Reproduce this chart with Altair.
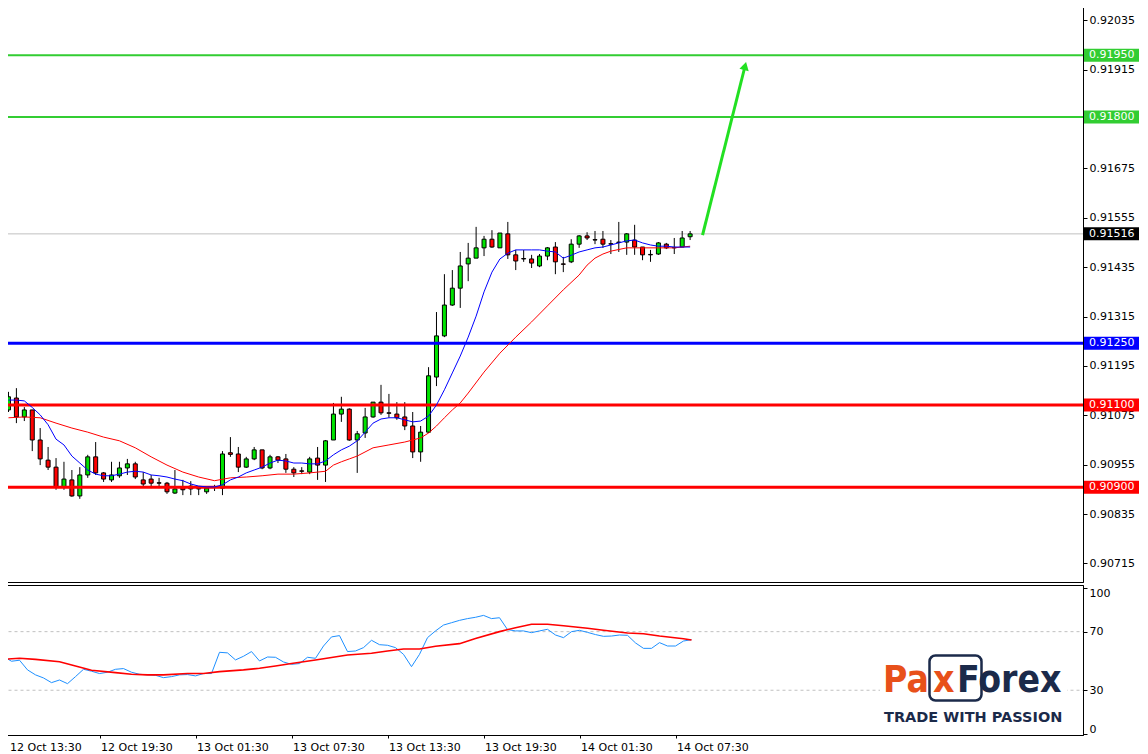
import altair as alt
import pandas as pd

# ---------------- data ----------------
start_time = "2022-10-12 13:30"
n_candles = 87
times = pd.date_range(start_time, periods=n_candles, freq="30min", tz="UTC")
t_iso = [t.strftime("%Y-%m-%dT%H:%M:%SZ") for t in times]

opens = [0.91088, 0.91117, 0.91071, 0.91088, 0.91015, 0.90966, 0.90949, 0.90901, 0.90918, 0.90879,
         0.90930, 0.90974, 0.90935, 0.90918, 0.90928, 0.90947, 0.90957, 0.90918, 0.90920, 0.90911,
         0.90910, 0.90886, 0.90901, 0.90903, 0.90897, 0.90889, 0.90900, 0.90898, 0.90984, 0.90981,
         0.90949, 0.90969, 0.90991, 0.90947, 0.90974, 0.90969, 0.90944, 0.90940, 0.90937, 0.90971,
         0.90954, 0.91015, 0.91078, 0.91090, 0.91015, 0.91032, 0.91071, 0.91107, 0.91081, 0.91078,
         0.91071, 0.91049, 0.90986, 0.91034, 0.91168, 0.91268, 0.91343, 0.91384, 0.91443, 0.91457,
         0.91482, 0.91503, 0.91482, 0.91516, 0.91465, 0.91456, 0.91455, 0.91438, 0.91462, 0.91484,
         0.91443, 0.91448, 0.91491, 0.91511, 0.91502, 0.91503, 0.91492, 0.91495, 0.91496, 0.91501,
         0.91484, 0.91466, 0.91467, 0.91491, 0.91483, 0.91484, 0.91509]
highs = [0.91132, 0.91141, 0.91095, 0.91088, 0.91044, 0.90998, 0.90971, 0.90962, 0.90942, 0.90949,
         0.90979, 0.91010, 0.90937, 0.90962, 0.90962, 0.90969, 0.90962, 0.90937, 0.90930, 0.90923,
         0.90913, 0.90942, 0.90918, 0.90915, 0.90901, 0.90901, 0.90906, 0.90988, 0.91022, 0.90998,
         0.90974, 0.90998, 0.90991, 0.90979, 0.90976, 0.90981, 0.90949, 0.90949, 0.90974, 0.90998,
         0.91015, 0.91105, 0.91120, 0.91092, 0.91037, 0.91093, 0.91107, 0.91149, 0.91127, 0.91107,
         0.91107, 0.91083, 0.91049, 0.91192, 0.91326, 0.91418, 0.91428, 0.91472, 0.91494, 0.91533,
         0.91511, 0.91525, 0.91518, 0.91545, 0.91477, 0.91477, 0.91465, 0.91467, 0.91484, 0.91496,
         0.91460, 0.91503, 0.91513, 0.91520, 0.91523, 0.91523, 0.91501, 0.91545, 0.91518, 0.91538,
         0.91484, 0.91477, 0.91496, 0.91494, 0.91506, 0.91523, 0.91523]
lows = [0.91083, 0.91056, 0.91061, 0.90988, 0.90954, 0.90942, 0.90894, 0.90894, 0.90877, 0.90872,
        0.90923, 0.90930, 0.90913, 0.90913, 0.90923, 0.90930, 0.90920, 0.90903, 0.90898, 0.90898,
        0.90884, 0.90884, 0.90881, 0.90881, 0.90881, 0.90884, 0.90891, 0.90881, 0.90974, 0.90937,
        0.90947, 0.90966, 0.90944, 0.90944, 0.90959, 0.90935, 0.90925, 0.90932, 0.90932, 0.90918,
        0.90913, 0.91015, 0.91059, 0.91013, 0.90935, 0.91020, 0.91069, 0.91076, 0.91069, 0.91064,
        0.91039, 0.90971, 0.90962, 0.91032, 0.91146, 0.91265, 0.91341, 0.91336, 0.91401, 0.91457,
        0.91462, 0.91482, 0.91482, 0.91455, 0.91428, 0.91448, 0.91433, 0.91435, 0.91452, 0.91418,
        0.91423, 0.91445, 0.91482, 0.91501, 0.91491, 0.91482, 0.91467, 0.91472, 0.91465, 0.91465,
        0.91452, 0.91448, 0.91465, 0.91479, 0.91467, 0.91484, 0.91501]
closes = [0.91120, 0.91071, 0.91088, 0.91015, 0.90969, 0.90949, 0.90901, 0.90920, 0.90879, 0.90930,
          0.90974, 0.90935, 0.90920, 0.90930, 0.90947, 0.90957, 0.90925, 0.90908, 0.90910, 0.90910,
          0.90889, 0.90896, 0.90894, 0.90896, 0.90896, 0.90898, 0.90901, 0.90981, 0.90980, 0.90949,
          0.90969, 0.90991, 0.90947, 0.90974, 0.90966, 0.90944, 0.90935, 0.90939, 0.90969, 0.90954,
          0.91013, 0.91078, 0.91090, 0.91015, 0.91030, 0.91071, 0.91107, 0.91081, 0.91080, 0.91069,
          0.91049, 0.90986, 0.91034, 0.91171, 0.91268, 0.91343, 0.91384, 0.91438, 0.91457, 0.91482,
          0.91503, 0.91484, 0.91518, 0.91465, 0.91450, 0.91455, 0.91445, 0.91462, 0.91482, 0.91448,
          0.91442, 0.91491, 0.91511, 0.91506, 0.91501, 0.91491, 0.91491, 0.91496, 0.91516, 0.91484,
          0.91465, 0.91465, 0.91494, 0.91482, 0.91482, 0.91506, 0.91516]

# fast moving average (blue), one value per candle
ma_fast = [0.91112, 0.91112, 0.91110, 0.91094, 0.91076, 0.91052, 0.91017, 0.91003, 0.90976, 0.90959,
           0.90942, 0.90932, 0.90928, 0.90928, 0.90932, 0.90937, 0.90939, 0.90937, 0.90930, 0.90928,
           0.90925, 0.90920, 0.90916, 0.90908, 0.90903, 0.90901, 0.90901, 0.90906, 0.90918, 0.90925,
           0.90935, 0.90942, 0.90949, 0.90959, 0.90966, 0.90964, 0.90959, 0.90959, 0.90957, 0.90957,
           0.90964, 0.90979, 0.90991, 0.91000, 0.91013, 0.91034, 0.91056, 0.91066, 0.91069, 0.91069,
           0.91064, 0.91059, 0.91061, 0.91073, 0.91100, 0.91137, 0.91178, 0.91219, 0.91265, 0.91316,
           0.91375, 0.91423, 0.91455, 0.91469, 0.91477, 0.91477, 0.91477, 0.91477, 0.91474, 0.91472,
           0.91457, 0.91464, 0.91472, 0.91477, 0.91482, 0.91484, 0.91489, 0.91494, 0.91499, 0.91501,
           0.91494, 0.91489, 0.91486, 0.91486, 0.91484, 0.91484, 0.91484]

# slow moving average (red), read at these candle positions
ma_slow_idx = [0, 2, 4, 6, 8, 10, 12, 14, 16, 18, 20, 22, 24, 26, 28, 30, 32, 34, 36, 38,
               40, 41, 42, 43, 44, 46, 48, 50, 52, 53, 54, 55, 56, 57, 58, 60, 62, 64, 66, 68,
               70, 72, 73, 74, 75, 76, 78, 80, 82, 84, 86]
ma_slow = [0.91069, 0.91071, 0.91069, 0.91056, 0.91044, 0.91034, 0.91022, 0.91013, 0.90996, 0.90974,
           0.90954, 0.90937, 0.90925, 0.90916, 0.90923, 0.90925, 0.90928, 0.90932, 0.90932, 0.90935,
           0.90939, 0.90954, 0.90962, 0.90969, 0.90976, 0.90996, 0.91003, 0.91010, 0.91020, 0.91032,
           0.91049, 0.91069, 0.91088, 0.91105, 0.91129, 0.91180, 0.91226, 0.91265, 0.91302, 0.91341,
           0.91380, 0.91416, 0.91440, 0.91457, 0.91467, 0.91474, 0.91482, 0.91482, 0.91482, 0.91482,
           0.91486]

# RSI (blue) per candle and its signal line (red)
rsi = [53.0, 49.8, 50.5, 43.9, 40.5, 38.4, 35.2, 37.0, 34.5, 39.3,
       44.3, 43.0, 41.4, 42.3, 44.3, 44.8, 42.3, 40.9, 40.5, 40.2,
       38.6, 39.3, 40.5, 40.7, 39.8, 41.4, 41.4, 55.9, 55.5, 50.7,
       53.2, 56.4, 50.0, 52.7, 52.5, 49.3, 47.7, 48.2, 52.5, 51.8,
       60.2, 66.4, 67.3, 56.4, 56.8, 59.1, 64.1, 61.1, 60.7, 59.1,
       54.5, 46.1, 54.5, 65.9, 70.5, 74.5, 76.1, 77.7, 78.9, 79.8,
       81.1, 78.9, 79.5, 71.4, 70.5, 70.5, 69.3, 70.5, 71.6, 67.7,
       65.9, 70.0, 70.9, 69.5, 68.0, 66.8, 67.0, 67.7, 67.5, 62.3,
       58.6, 58.6, 62.5, 60.2, 60.2, 63.6, 64.5]
rsi_sig_idx = [0, 2, 4, 7, 9, 11, 14, 16, 18, 20, 23, 25, 27, 30, 32, 34, 36, 39, 41, 43,
               46, 48, 50, 52, 54, 57, 59, 62, 64, 66, 68, 70, 73, 75, 78, 80, 82, 85, 86]
rsi_sig = [51.1, 51.8, 51.1, 49.5, 46.6, 43.6, 42.0, 40.9, 40.5, 40.5,
           41.4, 41.4, 42.7, 43.9, 45.0, 46.6, 48.2, 50.7, 52.3, 54.1,
           55.2, 56.8, 58.2, 58.2, 60.0, 61.8, 65.3, 70.0, 72.7, 75.0,
           75.0, 74.0, 72.3, 70.9, 69.1, 68.6, 67.0, 65.2, 64.3]

price_ticks = [0.92035, 0.91915, 0.91675, 0.91555, 0.91435, 0.91315,
               0.91195, 0.91075, 0.90955, 0.90835, 0.90715]
level_prices = [0.91950, 0.91800, 0.91250, 0.91100, 0.90900]
level_kinds = ["target", "target", "pivot", "support", "support"]
last_price = 0.91516
rsi_levels = [30, 70]
rsi_ticks = [0, 30, 70, 100]
time_ticks = ["2022-10-12 13:30", "2022-10-12 19:30", "2022-10-13 01:30", "2022-10-13 07:30",
              "2022-10-13 13:30", "2022-10-13 19:30", "2022-10-14 01:30", "2022-10-14 07:30"]
arrow_times = ["2022-10-14T09:17:00Z", "2022-10-14T11:58:00Z"]
arrow_prices = [0.91513, 0.91924]

# ---------------- tables ----------------
cdf = pd.DataFrame({"t": t_iso, "o": opens, "h": highs, "l": lows, "c": closes})
fast_df = pd.DataFrame({"t": t_iso, "v": ma_fast})
slow_df = pd.DataFrame({"t": [t_iso[i] for i in ma_slow_idx], "v": ma_slow})
rsi_df = pd.DataFrame({"t": t_iso, "v": rsi})
sig_df = pd.DataFrame({"t": [t_iso[i] for i in rsi_sig_idx], "v": rsi_sig})
lv_df = pd.DataFrame({"p": level_prices, "kind": level_kinds})
box_df = pd.DataFrame({"p": level_prices + [last_price], "kind": level_kinds + ["last"]})
last_df = pd.DataFrame({"p": [last_price]})
arrow_df = pd.DataFrame({"t": arrow_times, "p": arrow_prices})
rsi_lv_df = pd.DataFrame({"v": rsi_levels})


def ms(ts):
    return int(pd.Timestamp(ts).value // 10**6)


T0 = pd.Timestamp(start_time, tz="UTC")
x_domain = [ms(T0 - pd.Timedelta(seconds=562.5)), ms(T0 + pd.Timedelta(seconds=242887.5))]
tick_ms = [ms(pd.Timestamp(s, tz="UTC")) for s in time_ticks]

# ---------------- styles ----------------
BULL = "#00e400"
BEAR = "#ff0000"
FONT = "DejaVu Sans"
KIND_SCALE = alt.Scale(domain=["target", "pivot", "support", "last"],
                       range=["#32cd32", "#0000ff", "#ff0000", "#000000"])

XS = alt.Scale(type="utc", domain=x_domain, nice=False)
X_MAIN = alt.X("t:T", scale=XS, axis=None)

YS = alt.Scale(domain=[0.9066983, 0.9208441], zero=False, nice=False)
YAX = alt.Axis(orient="right", values=price_ticks, format=".5f", tickSize=4, labelPadding=2,
               grid=False, title=None, labelOverlap=False, labelFlush=False)


def yp(f):
    return alt.Y(f, scale=YS, axis=YAX)


last_rule = alt.Chart(last_df).mark_rule(color="#c0c0c0", strokeWidth=1).encode(
    y=yp("p:Q"), x=alt.value(1.5), x2=alt.value(1082))

wicks = alt.Chart(cdf).mark_rule(color="black", strokeWidth=1).encode(
    x=X_MAIN, y=yp("l:Q"), y2="h:Q")

bodies = alt.Chart(cdf).mark_bar(size=4, stroke="black", strokeWidth=1, opacity=1).encode(
    x=X_MAIN, y=yp("o:Q"), y2="c:Q",
    color=alt.condition("datum.c >= datum.o", alt.value(BULL), alt.value(BEAR)))

green_rules = alt.Chart(lv_df).transform_filter(alt.datum.kind == "target").mark_rule(
    strokeWidth=2).encode(
    y=yp("p:Q"), x=alt.value(1.5), x2=alt.value(1082),
    color=alt.Color("kind:N", scale=KIND_SCALE, legend=None))

other_rules = alt.Chart(lv_df).transform_filter(alt.datum.kind != "target").mark_rule(
    strokeWidth=3).encode(
    y=yp("p:Q"), x=alt.value(1.5), x2=alt.value(1082),
    color=alt.Color("kind:N", scale=KIND_SCALE, legend=None))

slow_line = alt.Chart(slow_df).mark_line(color="#ff0000", strokeWidth=1).encode(
    x=X_MAIN, y=yp("v:Q"))
fast_line = alt.Chart(fast_df).mark_line(color="#0000ff", strokeWidth=1).encode(
    x=X_MAIN, y=yp("v:Q"))

arrow_line = alt.Chart(arrow_df).mark_line(color="#22e022", strokeWidth=3).encode(
    x=X_MAIN, y=yp("p:Q"))
arrow_head = alt.Chart(arrow_df).transform_filter(alt.datum.p > 0.918).mark_point(
    shape="triangle-up", filled=True, size=90, angle=14, color="#22e022", opacity=1).encode(
    x=X_MAIN, y=yp("p:Q"))

boxes = alt.Chart(box_df).mark_tick(orient="horizontal", thickness=13, size=55, opacity=1).encode(
    x=alt.value(1110.5), y=yp("p:Q"),
    color=alt.Color("kind:N", scale=KIND_SCALE, legend=None))
box_text = alt.Chart(box_df).mark_text(align="left", baseline="middle", color="white",
                                       font=FONT, fontSize=11).encode(
    x=alt.value(1088), y=yp("p:Q"), text=alt.Text("p:Q", format=".5f"))

main = alt.layer(last_rule, wicks, bodies, green_rules, other_rules, slow_line, fast_line,
                 arrow_line, arrow_head, boxes, box_text).properties(width=1082, height=582)

# ---------------- RSI panel ----------------
X_RSI = alt.X("t:T", scale=XS, axis=alt.Axis(
    values=tick_ms, labelExpr="utcFormat(datum.value, '%d %b %H:%M')", labelAlign="left",
    labelOffset={"condition": {"test": f"datum.value <= {tick_ms[0]}", "value": 6}, "value": 1},
    labelPadding=3, tickSize=3, domain=False, grid=False, title=None,
    labelFlush=False, labelOverlap=False))
RS = alt.Scale(domain=[-0.55, 101.84], zero=False, nice=False)
RAX = alt.Axis(orient="right", values=rsi_ticks, format="d", tickSize=4, labelPadding=2,
               grid=False, title=None, labelOverlap=False, labelFlush=False,
               labelBaseline={"condition": {"test": "datum.value >= 100", "value": "top"},
                              "value": "middle"},
               labelOffset={"condition": {"test": "datum.value <= 0", "value": -5}, "value": 0})


def yr(f):
    return alt.Y(f, scale=RS, axis=RAX)


rsi_dash = alt.Chart(rsi_lv_df).mark_rule(color="#c0c0c0", strokeDash=[3, 3], strokeWidth=1).encode(
    y=yr("v:Q"), x=alt.value(1.5), x2=alt.value(1082))

NAVY = "#1b2a4a"
ORANGE = "#e8501a"
one = pd.DataFrame({"k": [1]})
logo_bg = alt.Chart(one).mark_rect(fill="white", opacity=1).encode(
    x=alt.value(879), x2=alt.value(1066), y=alt.value(68), y2=alt.value(140))
logo_box = alt.Chart(one).mark_rect(fill="white", fillOpacity=0, stroke=NAVY, strokeWidth=2.5,
                                    cornerRadius=6).encode(
    x=alt.value(928.5), x2=alt.value(980.5), y=alt.value(70.5), y2=alt.value(115.5))
NARROW = "Liberation Sans Narrow, Arial Narrow, DejaVu Sans Condensed, sans-serif"
LOGO_SIZE = 37
logo_pa = alt.Chart(pd.DataFrame({"s": ["Pa"]})).mark_text(
    align="left", baseline="alphabetic", font=NARROW, fontWeight="bold", fontSize=LOGO_SIZE,
    color=ORANGE).encode(text="s:N", x=alt.value(882), y=alt.value(107))
logo_x = alt.Chart(pd.DataFrame({"s": ["x"]})).mark_text(
    align="left", baseline="alphabetic", font=NARROW, fontWeight="bold", fontSize=LOGO_SIZE,
    color=ORANGE).encode(text="s:N", x=alt.value(932), y=alt.value(107))
logo_forex = alt.Chart(pd.DataFrame({"s": ["Forex"]})).mark_text(
    align="left", baseline="alphabetic", font=NARROW, fontWeight="bold", fontSize=LOGO_SIZE,
    color=NAVY).encode(text="s:N", x=alt.value(956), y=alt.value(107))
logo_tag = alt.Chart(pd.DataFrame({"s": ["TRADE WITH PASSION"]})).mark_text(
    align="left", baseline="alphabetic", font=FONT, fontWeight="bold", fontSize=14.5,
    color=NAVY).encode(text="s:N", x=alt.value(883), y=alt.value(137))

rsi_line = alt.Chart(rsi_df).mark_line(color="#1e90ff", strokeWidth=1).encode(
    x=X_RSI, y=yr("v:Q"))
sig_line = alt.Chart(sig_df).mark_line(color="#ff0000", strokeWidth=1.6).encode(
    x=X_RSI, y=yr("v:Q"))

rsi_panel = alt.layer(rsi_dash, logo_bg, logo_box, logo_pa, logo_x, logo_forex, logo_tag,
                      rsi_line, sig_line).properties(width=1082, height=150)

chart = alt.vconcat(main, rsi_panel, spacing=1).resolve_scale(
    y="independent", color="independent").configure_view(
    stroke="black", strokeWidth=1).configure_axis(
    labelFont=FONT, labelFontSize=11, labelColor="black", domainColor="black",
    tickColor="black", domainWidth=1, tickWidth=1).properties(
    padding={"left": -9, "top": -9, "right": 0, "bottom": 0}, background="white")

chart.save("out.html", embed_options={"renderer": "svg", "actions": False})
